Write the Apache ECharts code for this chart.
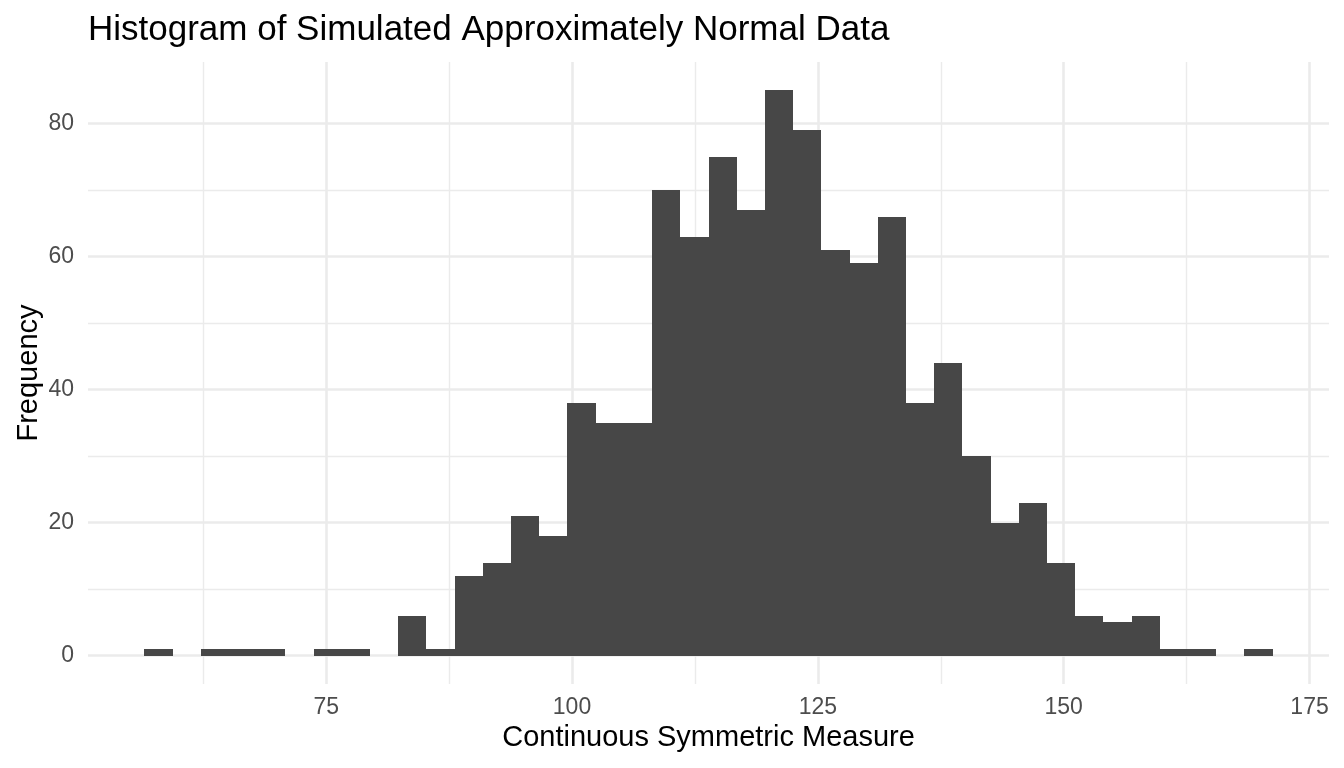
<!DOCTYPE html>
<html>
<head>
<meta charset="utf-8">
<script src="https://cdn.jsdelivr.net/npm/echarts@6/dist/echarts.min.js"></script>
<style>
  html, body { margin: 0; padding: 0; background: #fff; }
  #chart { width: 1344px; height: 768px; }
</style>
</head>
<body>
<div id="chart"></div>
<script>
// histogram bins (40 bins, equal width)
const binStart = 56.52;
const binWidth = 2.868;
const counts = [
  1, 0, 1, 1, 1, 0, 1, 1, 0, 6,
  1, 12, 14, 21, 18, 38, 35, 35, 70, 63,
  75, 67, 85, 79, 61, 59, 66, 38, 44, 30,
  20, 23, 14, 6, 5, 6, 1, 1, 0, 1
];

const xMajorTicks = [75, 100, 125, 150, 175];
const xMinorTicks = [62.5, 87.5, 112.5, 137.5, 162.5];
const yMajorTicks = [0, 20, 40, 60, 80];
const yMinorTicks = [10, 30, 50, 70];

const xMin = 50.78, xMax = 176.98;
const yMin = -4.25, yMax = 89.25;

const bins = counts.map((c, i) => [binStart + i * binWidth, binStart + (i + 1) * binWidth, c]);

const font = "Liberation Sans, Arial, Helvetica, sans-serif";
const gridColor = "#EBEBEB";
const barColor = "#474747";

const chart = echarts.init(document.getElementById("chart"));

const option = {
  backgroundColor: "#fff",
  animation: false,
  title: {
    text: "Histogram of Simulated Approximately Normal Data",
    left: 83,
    top: 8,
    textStyle: { fontFamily: font, fontSize: 35, fontWeight: "normal", color: "#000" }
  },
  grid: { left: 88, right: 15, top: 62, bottom: 84 },
  xAxis: [
    {
      type: "value", min: xMin, max: xMax,
      name: "Continuous Symmetric Measure",
      nameLocation: "middle", nameGap: 39,
      nameTextStyle: { fontFamily: font, fontSize: 29, color: "#000" },
      axisLine: { show: false },
      axisTick: { show: false, customValues: xMajorTicks },
      axisLabel: { customValues: xMajorTicks, margin: 12, fontFamily: font, fontSize: 23, color: "#4D4D4D" },
      splitLine: { show: true, lineStyle: { color: gridColor, width: 2.6 } }
    },
    {
      type: "value", min: xMin, max: xMax, position: "bottom",
      axisLine: { show: false },
      axisTick: { show: false, customValues: xMinorTicks },
      axisLabel: { show: false, customValues: xMinorTicks },
      splitLine: { show: true, lineStyle: { color: gridColor, width: 1.4 } }
    }
  ],
  yAxis: [
    {
      type: "value", min: yMin, max: yMax,
      name: "Frequency",
      nameLocation: "middle", nameGap: 45, nameRotate: 90,
      nameMoveOverlap: false,
      nameTextStyle: { fontFamily: font, fontSize: 29, color: "#000" },
      axisLine: { show: false },
      axisTick: { show: false, customValues: yMajorTicks },
      axisLabel: { customValues: yMajorTicks, margin: 14, fontFamily: font, fontSize: 23, color: "#4D4D4D" },
      splitLine: { show: true, lineStyle: { color: gridColor, width: 2.6 } }
    },
    {
      type: "value", min: yMin, max: yMax, position: "left",
      axisLine: { show: false },
      axisTick: { show: false, customValues: yMinorTicks },
      axisLabel: { show: false, customValues: yMinorTicks },
      splitLine: { show: true, lineStyle: { color: gridColor, width: 1.4 } }
    }
  ],
  series: [
    {
      type: "custom",
      xAxisIndex: 0,
      yAxisIndex: 0,
      data: bins,
      encode: { x: [0, 1], y: 2 },
      renderItem: function (params, api) {
        const count = api.value(2);
        if (!count) return null;
        const p0 = api.coord([api.value(0), count]);
        const p1 = api.coord([api.value(1), 0]);
        // snap edges to whole pixels so neighbouring bars meet without seams
        const x0 = Math.round(p0[0]), x1 = Math.round(p1[0]);
        const y0 = Math.round(p0[1]), y1 = Math.round(p1[1]);
        return {
          type: "rect",
          shape: { x: x0, y: y0, width: x1 - x0, height: y1 - y0 },
          style: { fill: barColor }
        };
      }
    }
  ]
};

chart.setOption(option);
</script>
</body>
</html>
